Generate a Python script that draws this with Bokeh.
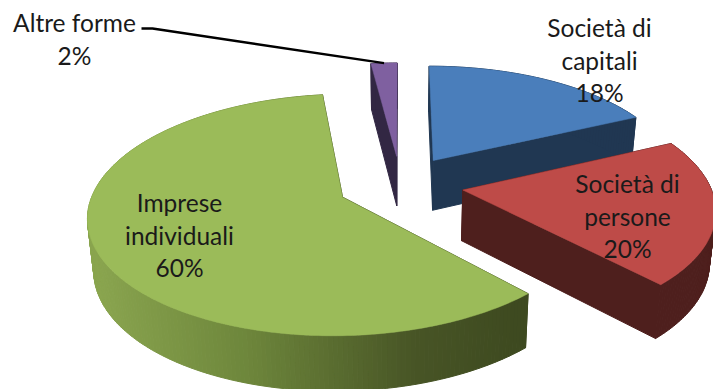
import numpy as np
from bokeh.core.properties import value
from bokeh.embed import file_html
from bokeh.models import ColumnDataSource, Range1d
from bokeh.plotting import figure
from bokeh.resources import INLINE

# Share of firms by legal form, clockwise from twelve o'clock
categories = ["Società di capitali", "Società di persone", "Imprese individuali", "Altre forme"]
shares = [18, 20, 60, 2]
name_lines = [["Società di", "capitali"], ["Società di", "persone"], ["Imprese", "individuali"], ["Altre forme"]]

top_colors = ["#4a7ebb", "#be4b48", "#9bbb59", "#7f60a0"]
wall_colors = ["#203752", "#4e1f1d", None, "#322743"]

# Text centre of the first line of each label (pixels)
label_x = [599, 627, 179, 74]
label_y = [27, 183, 202, 22]
line_step = 32.6

# Camera used to project the tilted, exploded pie
CX, CY = 400.0, 184.0
RX, RY = 247.0, 114.5
PERSP = 0.145
EXPLODE = 0.255
THICK = 50.5
THICK_PERSP = 0.08
BASE_SHRINK = 0.98


def project_top(wx, wy):
    w = 1 + PERSP * wy
    return CX + RX * wx / w, CY - RY * wy / w


def project_base(wx, wy):
    sx, sy = project_top(wx, wy)
    return CX + (sx - CX) * BASE_SHRINK, sy + THICK / (1 + THICK_PERSP * wy)


def green_wall_color(sx):
    t = float(np.clip((sx - 95) / (521 - 95), 0, 1))
    stops = [0, 0.35, 0.75, 1]
    r = np.interp(t, stops, [138, 110, 72, 62])
    g = np.interp(t, stops, [165, 135, 85, 74])
    b = np.interp(t, stops, [79, 60, 38, 32])
    return "#%02x%02x%02x" % (int(r), int(g), int(b))


p = figure(width=713, height=389, output_backend="svg", toolbar_location=None,
           x_range=Range1d(0, 713), y_range=Range1d(389, 0), min_border=0,
           background_fill_color="white", border_fill_color="white", outline_line_color=None)
p.axis.visible = False
p.grid.visible = False

edges = np.cumsum([0] + shares) / sum(shares) * 2 * np.pi
outer_points = {}

for i, name in enumerate(categories):
    a0, a1 = edges[i], edges[i + 1]
    mid = (a0 + a1) / 2
    ox, oy = EXPLODE * np.sin(mid), EXPLODE * np.cos(mid)
    th = np.linspace(a0, a1, max(6, int((a1 - a0) * 60)))
    arc_x = ox + np.sin(th)
    arc_y = oy + np.cos(th)

    tx, ty = project_top(arc_x, arc_y)
    bx, by = project_base(arc_x, arc_y)
    atx, aty = project_top(ox, oy)
    abx, aby = project_base(ox, oy)

    # Radial faces, then the rounded outer wall, then the top surface
    xs, ys, cols = [], [], []
    wall = wall_colors[i]
    for k in (0, -1):
        xs.append([atx, tx[k], bx[k], abx])
        ys.append([aty, ty[k], by[k], aby])
        cols.append(wall if wall else green_wall_color(521))
    for k in range(len(th) - 1):
        xs.append([tx[k], tx[k + 1], bx[k + 1], bx[k]])
        ys.append([ty[k], ty[k + 1], by[k + 1], by[k]])
        cols.append(wall if wall else green_wall_color((tx[k] + tx[k + 1]) / 2))
    p.patches(xs=xs, ys=ys, fill_color=cols, line_color=cols, line_width=1)

    p.patch(x=np.r_[atx, tx], y=np.r_[aty, ty], fill_color=top_colors[i],
            line_color=top_colors[i], line_width=0.5)

    mx, my = project_top(ox + np.sin(mid), oy + np.cos(mid))
    outer_points[name] = (float(mx), float(my))

# Leader from the smallest slice to its label
lx, ly = outer_points["Altre forme"]
p.line(x=[141, 152, lx], y=[28, 28, ly], line_color="black", line_width=2.4)

# Labels: name lines followed by the percentage
text_x, text_y, text_s = [], [], []
for i in range(len(categories)):
    lines = name_lines[i] + [f"{shares[i]}%"]
    for j, s in enumerate(lines):
        text_x.append(label_x[i])
        text_y.append(label_y[i] + j * line_step)
        text_s.append(s)
src = ColumnDataSource(dict(x=text_x, y=text_y, text=text_s))
p.text(x="x", y="y", text="text", source=src, text_font=value("Lato"), text_font_size="24.5px",
       text_color="#1a1a1a", text_align="center", text_baseline="middle")

open("out.html", "w").write(file_html(p, INLINE))
